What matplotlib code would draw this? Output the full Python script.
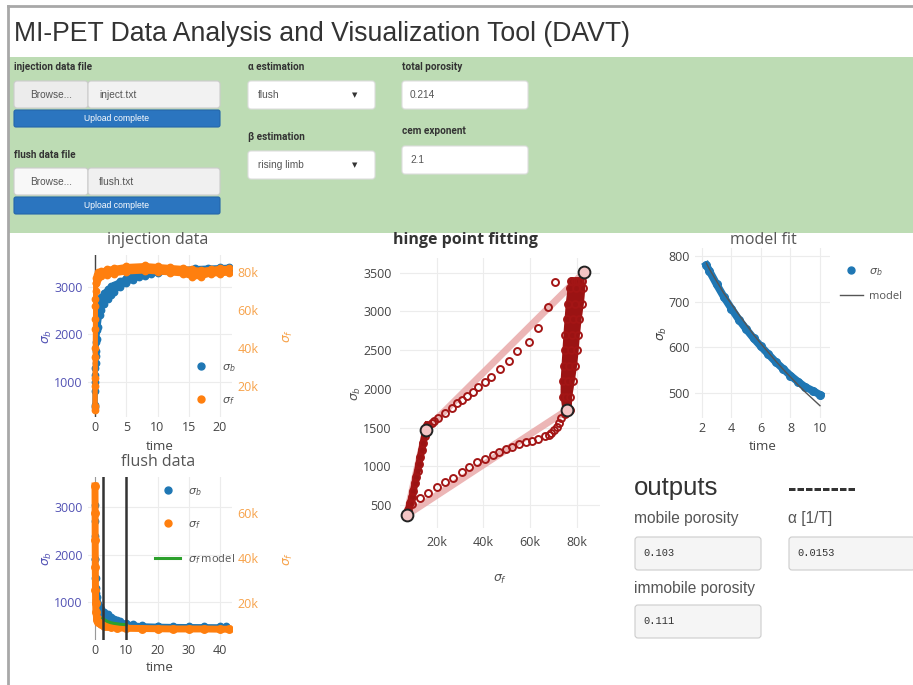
import matplotlib
matplotlib.use("Agg")
import matplotlib.pyplot as plt
from matplotlib.patches import Rectangle, FancyBboxPatch
from matplotlib.lines import Line2D
from matplotlib.ticker import FuncFormatter

# ---------------- data ----------------
# injection data (time, sigma_b band, sigma_f band in thousands)
inj_t_b = [0.0, 0.03, 0.06, 0.1, 0.2, 0.3, 0.5, 0.75, 1.0, 1.5, 2.0, 2.5, 3.0, 4.0, 5.0, 6.0,
           7.0, 8.0, 9.0, 10.0, 12.0, 14.0, 16.0, 18.0, 20.0, 21.5]
inj_sb_lo = [480, 800, 1150, 1400, 1650, 1900, 2150, 2400, 2520, 2650, 2750, 2830, 2900, 3000,
             3080, 3150, 3200, 3240, 3270, 3290, 3320, 3340, 3360, 3370, 3380, 3380]
inj_sb_hi = [520, 1000, 1300, 1550, 1850, 2100, 2400, 2650, 2780, 2880, 2950, 3010, 3050, 3120,
             3180, 3230, 3270, 3300, 3320, 3330, 3350, 3370, 3390, 3400, 3410, 3420]
inj_t_f = [0.0, 0.02, 0.04, 0.06, 0.08, 0.1, 0.15, 0.25, 0.5, 1.0, 2.0, 3.0, 5.0, 8.0, 10.0,
           12.0, 14.0, 15.5, 17.0, 18.5, 20.0, 21.5]
inj_sf_lo = [7.5, 20, 35, 50, 62, 70, 74, 76, 77, 78, 78.5, 79, 80, 80.5, 80, 79.5, 79, 77.5,
             77.5, 79, 79, 79.5]
inj_sf_hi = [9.5, 24, 40, 55, 66, 74, 77, 78.5, 80, 80.5, 81.5, 82, 83, 83.5, 83, 82.5, 82,
             81.5, 81, 81.5, 82, 82]

# flush data
fl_t_b = [0.0, 0.05, 0.1, 0.2, 0.3, 0.5, 0.75, 1.0, 1.5, 2.0, 3.0, 4.0, 5.0, 6.0, 7.0, 8.0,
          10.0, 12.0, 15.0, 20.0, 25.0, 30.0, 35.0, 40.0, 42.0]
fl_sb_lo = [2700, 1900, 1500, 1200, 1050, 900, 830, 780, 720, 670, 620, 580, 555, 540, 530,
            520, 505, 495, 490, 485, 480, 478, 475, 472, 470]
fl_sb_hi = [3050, 2400, 1900, 1500, 1300, 1100, 1000, 950, 900, 860, 800, 740, 690, 650, 620,
            590, 555, 530, 510, 500, 495, 492, 490, 488, 485]
fl_t_f = [0.0, 0.03, 0.06, 0.1, 0.15, 0.2, 0.3, 0.5, 0.75, 1.0, 1.5, 2.0, 3.0, 4.0, 5.0, 7.0,
          10.0, 15.0, 20.0, 25.0, 30.0, 35.0, 40.0, 43.0]
fl_sf = [72, 60, 48, 36, 26, 20, 16, 13.5, 12.5, 11.8, 11, 10.5, 10, 9.6, 9.3, 9, 8.8, 8.7,
         8.6, 8.5, 8.5, 8.5, 8.4, 8.4]
fl_model_t = [2.5, 3, 4, 5, 6, 7, 8, 9, 10]
fl_model_sf = [13.3, 12.6, 11.8, 11.3, 11.0, 10.8, 10.6, 10.5, 10.4]
fl_cut_times = [2.5, 10]

# hinge point fitting (sigma_f in thousands)
hinge_sf = [7.1, 15.3, 75.9, 83.2]
hinge_sb = [370, 1469, 1727, 3506]
fit_upper_sf = [7.1, 15.3, 83.2]
fit_upper_sb = [370, 1469, 3506]
fit_lower_sf = [7.1, 75.9, 83.2]
fit_lower_sb = [370, 1727, 3506]
up_sf = [81.0, 79.5, 77.5, 70.7, 67.8, 63.5, 59.5, 54.3, 51.1, 47.1, 43.5, 40.7, 37.6, 35.4,
         33.1, 30.7, 28.8, 26.4, 23.6, 20.7, 19.0, 17.9, 16.5]
up_sb = [3400, 3400, 3400, 3385, 3062, 2791, 2610, 2490, 2360, 2253, 2158, 2085, 2021, 1964,
         1912, 1857, 1814, 1749, 1685, 1620, 1590, 1556, 1520]
left_sf = [16.0, 15.3, 14.8, 14.2, 13.6, 13.0, 12.4, 11.8, 11.2, 10.7, 10.0, 9.4, 8.6, 7.9, 7.1]
left_sb = [1530, 1469, 1390, 1300, 1210, 1120, 1030, 940, 860, 780, 680, 600, 522, 440, 370]
low_sf = [9.6, 12.8, 16.4, 20.0, 23.6, 27.1, 30.7, 34.0, 37.1, 40.7, 44.2, 46.8, 49.7, 52.5,
          55.4, 58.1, 60.7, 63.5, 66.4, 68.0, 69.2, 70.3, 71.4, 72.5, 73.5, 74.8]
low_sb = [513, 587, 659, 729, 793, 853, 930, 995, 1052, 1094, 1146, 1185, 1219, 1253, 1284,
          1310, 1331, 1357, 1391, 1410, 1434, 1470, 1512, 1560, 1620, 1680]
right_sb = [1727, 1900, 2100, 2300, 2500, 2700, 2900, 3100, 3300, 3400]
right_sf_lo = [74.8, 74.0, 74.0, 74.4, 74.8, 75.2, 75.7, 76.2, 77.0, 78.0]
right_sf_mid = [75.9, 75.6, 76.2, 76.8, 77.4, 77.9, 78.5, 79.2, 79.9, 80.2]
right_sf_hi = [77.0, 77.2, 78.3, 79.3, 80.0, 80.5, 81.2, 82.2, 82.8, 82.5]

# model fit
mf_t = [2.3, 2.5, 3.0, 3.5, 4.0, 4.5, 5.0, 5.5, 6.0, 6.5, 7.0, 7.5, 8.0, 8.5, 9.0, 9.5, 10.0]
mf_sb = [780, 768, 738, 710, 685, 661, 640, 620, 602, 585, 568, 553, 538, 525, 513, 505, 496]
mf_model = [785, 772, 745, 718, 695, 672, 650, 628, 608, 589, 570, 552, 535, 518, 502, 487, 472]

# text content
app_title = "MI-PET Data Analysis and Visualization Tool (DAVT)"
outputs = {"mobile porosity": "0.103", "immobile porosity": "0.111", "\u03b1 [1/T]": "0.0153"}

# ---------------- figure ----------------
W, H = 913, 685
fig = plt.figure(figsize=(W / 100, H / 100), dpi=100)
fig.patch.set_facecolor("white")
plt.rcParams["font.family"] = ["Open Sans", "DejaVu Sans"]

ui = fig.add_axes([0, 0, 1, 1])
ui.set_xlim(0, W)
ui.set_ylim(H, 0)
ui.axis("off")

UI_FONT = ["Liberation Sans", "DejaVu Sans"]
BLUE, ORANGE, GREEN = "#1f77b4", "#ff7f0e", "#2ca02c"
LBLUE_TXT, LORANGE_TXT = "#5252b4", "#f7a24a"
DARKRED = "#a31515"
BAND_RED = "#9b1313"


def box(x0, y0, x1, y1, fc, ec="#cccccc", r=3, lw=0.8):
    ui.add_patch(FancyBboxPatch((x0, y0), x1 - x0, y1 - y0,
                                boxstyle=f"round,pad=0,rounding_size={r}",
                                fc=fc, ec=ec, lw=lw))


def t(x, y, s, size=7, color="#333333", weight="normal", ha="left", va="center", family=None):
    ui.text(x, y, s, fontsize=size, color=color, fontweight=weight, ha=ha, va=va,
            family=family or UI_FONT)


# frame
ui.plot([8, 8], [6, 685], color="#a8a8a8", lw=2)
ui.plot([8, 913], [6, 6], color="#a8a8a8", lw=2)

t(14, 34, app_title, size=19.2, color="#333333")

# green input panel
ui.add_patch(Rectangle((9, 57), 904, 176, fc="#bddcb4", ec="none"))

lab = dict(size=7.2, weight="bold", color="#333333", family=["Roboto", "Liberation Sans"])
t(14, 67, "injection data file", **lab)
t(14, 155, "flush data file", **lab)
t(248, 67, "\u03b1 estimation", **lab)
t(248, 137, "\u03b2 estimation", **lab)
t(402, 67, "total porosity", **lab)
t(402, 131, "cem exponent", **lab)

for (y0, bfc, ffc, fname) in [(81, "#ececec", "#f2f2f2", "inject.txt"),
                              (168, "#f8f8f8", "#f0f0f0", "flush.txt")]:
    box(14, y0, 88, y0 + 27, bfc)
    box(88, y0, 220, y0 + 27, ffc)
    t(51, y0 + 13.5, "Browse...", size=7.3, color="#555555", ha="center")
    t(99, y0 + 13.5, fname, size=7.3, color="#555555")
    box(14, y0 + 29, 220, y0 + 46, "#2b75bf", ec="#2466aa", r=2)
    t(117, y0 + 37.5, "Upload complete", size=6.2, color="white", ha="center")

for (y0, txt) in [(81, "flush"), (151, "rising limb")]:
    box(248, y0, 375, y0 + 28, "white", ec="#dddddd")
    t(258, y0 + 14, txt, size=7.3, color="#555555")
    t(355, y0 + 14, "\u25bc", size=5, color="#333333", ha="center", family=["DejaVu Sans"])

for (y0, txt) in [(81, "0.214"), (146, "2.1")]:
    box(402, y0, 528, y0 + 28, "white", ec="#dddddd")
    t(410, y0 + 14, txt, size=7.3, color="#555555")

# outputs panel
t(634, 488, "outputs", size=18.5, color="#333333")
t(788, 489, "--------", size=18.5, color="#333333", weight="bold")
out_items = list(outputs.items())
out_pos = [(634, 519, 537), (634, 588, 605), (788, 519, 537)]
for (name, val), (x, ly, by) in zip(out_items, out_pos):
    t(x, ly, name, size=11.2, color="#555555")
    box(x + 1, by, x + 127, by + 33, "#f5f5f5", ec="#cccccc")
    t(x + 9, by + 16.5, val, size=7.5, color="#333333", family=["Liberation Mono", "DejaVu Sans Mono"])


# ---------------- charts ----------------
def px_axes(x0, y0, x1, y1):
    return fig.add_axes([x0 / W, 1 - y1 / H, (x1 - x0) / W, (y1 - y0) / H])


def style(ax, color="#444444"):
    ax.set_facecolor("none")
    for s in ax.spines.values():
        s.set_visible(False)
    ax.tick_params(length=0, labelsize=9, colors=color)
    ax.grid(True, color="#ececec", lw=0.8)
    ax.set_axisbelow(True)


kfmt = FuncFormatter(lambda v, p: f"{int(v)}k")
SB = r"$\sigma_b$"
SF = r"$\sigma_f$"
MS = 4.6


def legend(ax, handles, labels, x, y, hl, pad, spacing):
    ax.legend(handles, labels, loc="upper left", bbox_to_anchor=(x, y),
              bbox_transform=ui.transData, frameon=False, fontsize=8,
              handlelength=hl, handletextpad=pad, labelspacing=spacing,
              borderpad=0, borderaxespad=0, labelcolor="#555555", numpoints=1)


# injection data
ax1 = px_axes(88, 255, 232, 417)
style(ax1)
ax1.set_xlim(-1.12, 21.92)
ax1.set_ylim(260, 3673)
ax1.set_xticks([0, 5, 10, 15, 20])
ax1.set_yticks([1000, 2000, 3000])
ax1.tick_params(axis="y", colors=LBLUE_TXT, pad=4)
ax1.tick_params(axis="x", pad=3)
ax1.axvline(0, color="#444444", lw=1.0, zorder=1)
ax1.fill_between(inj_t_b, inj_sb_lo, inj_sb_hi, color=BLUE, lw=0, zorder=2)
ax1.plot(inj_t_b, inj_sb_lo, "o-", color=BLUE, ms=MS, lw=3.5, zorder=2)
ax1.plot(inj_t_b, inj_sb_hi, "o-", color=BLUE, ms=MS, lw=3.5, zorder=2)
ax1.set_xlabel("time", fontsize=9.5, color="#444444")
ax1.xaxis.set_label_coords(0.5, -0.14)
ax1.set_ylabel(SB, fontsize=9, color=LBLUE_TXT)
ax1.yaxis.set_label_coords(-0.236, 0.5)
ax1r = ax1.twinx()
for s in ax1r.spines.values():
    s.set_visible(False)
ax1r.set_ylim(3.6, 89)
ax1r.set_yticks([20, 40, 60, 80])
ax1r.yaxis.set_major_formatter(kfmt)
ax1r.tick_params(length=0, labelsize=9, colors=LORANGE_TXT, pad=4)
ax1r.fill_between(inj_t_f, inj_sf_lo, inj_sf_hi, color=ORANGE, lw=0)
ax1r.plot(inj_t_f, inj_sf_lo, "o-", color=ORANGE, ms=MS, lw=3.5)
ax1r.plot(inj_t_f, inj_sf_hi, "o-", color=ORANGE, ms=MS, lw=3.5)
ax1r.set_ylabel(SF, fontsize=9, color=LORANGE_TXT, rotation=90)
ax1r.yaxis.set_label_coords(1.347, 0.5)
legend(ax1r, [Line2D([], [], marker="o", ls="", color=BLUE, ms=5),
              Line2D([], [], marker="o", ls="", color=ORANGE, ms=5)],
       [SB, SF], 194, 362, 1.2, 1.3, 1.9)
t(158, 240, "injection data", size=11.5, color="#555555", ha="center", family=["Open Sans"])

# flush data
ax2 = px_axes(88, 477, 232, 640)
style(ax2)
ax2.set_xlim(-2.24, 43.84)
ax2.set_ylim(200, 3632)
ax2.set_xticks([0, 10, 20, 30, 40])
ax2.set_yticks([1000, 2000, 3000])
ax2.tick_params(axis="y", colors=LBLUE_TXT, pad=4)
ax2.tick_params(axis="x", pad=3)
ax2.axvline(0, color="#999999", lw=0.8, zorder=1)
ax2.fill_between(fl_t_b, fl_sb_lo, fl_sb_hi, color=BLUE, lw=0, zorder=2)
ax2.plot(fl_t_b, fl_sb_lo, "o-", color=BLUE, ms=MS, lw=3, zorder=2)
ax2.plot(fl_t_b, fl_sb_hi, "o-", color=BLUE, ms=MS, lw=3, zorder=2)
ax2.set_xlabel("time", fontsize=9.5, color="#444444")
ax2.xaxis.set_label_coords(0.5, -0.13)
ax2.set_ylabel(SB, fontsize=9, color=LBLUE_TXT)
ax2.yaxis.set_label_coords(-0.236, 0.5)
ax2r = ax2.twinx()
for s in ax2r.spines.values():
    s.set_visible(False)
ax2r.set_ylim(3.6, 76)
ax2r.set_yticks([20, 40, 60])
ax2r.yaxis.set_major_formatter(kfmt)
ax2r.tick_params(length=0, labelsize=9, colors=LORANGE_TXT, pad=4)
ax2r.plot(fl_t_f, fl_sf, "o-", color=ORANGE, ms=MS + 0.8, lw=5)
ax2r.plot(fl_model_t, fl_model_sf, "-", color=GREEN, lw=2.2)
for ct in fl_cut_times:
    ax2r.axvline(ct, color="#333333", lw=1.8)
ax2r.set_ylabel(SF, fontsize=9, color=LORANGE_TXT, rotation=90)
ax2r.yaxis.set_label_coords(1.347, 0.5)
legend(ax2r, [Line2D([], [], marker="o", ls="", color=BLUE, ms=5),
              Line2D([], [], marker="o", ls="", color=ORANGE, ms=5),
              Line2D([], [], color=GREEN, lw=2.2)],
       [SB, SF, SF + " model"], 155, 486, 2.25, 0.75, 1.9)
t(158, 462, "flush data", size=11.5, color="#555555", ha="center", family=["Open Sans"])

# hinge point fitting
ax3 = px_axes(400, 258, 600, 528)
style(ax3)
ax3.set_xlim(4.3, 90)
ax3.set_ylim(203, 3691)
ax3.set_xticks([20, 40, 60, 80])
ax3.xaxis.set_major_formatter(kfmt)
ax3.set_yticks([500, 1000, 1500, 2000, 2500, 3000, 3500])
ax3.tick_params(axis="y", pad=6)
ax3.tick_params(axis="x", pad=6)
ax3.plot(fit_upper_sf, fit_upper_sb, color="#e9a9a9", lw=5, alpha=0.85, solid_capstyle="round", zorder=2)
ax3.plot(fit_lower_sf, fit_lower_sb, color="#e9a9a9", lw=5, alpha=0.85, solid_capstyle="round", zorder=2)
ax3.fill_betweenx(right_sb, right_sf_lo, right_sf_hi, color=BAND_RED, lw=0, zorder=3)
for xs in (right_sf_lo, right_sf_mid, right_sf_hi):
    ax3.plot(xs, right_sb, "o-", mfc="none", mec=DARKRED, color=BAND_RED, mew=1.4, ms=5, lw=3, zorder=3)
ax3.plot(left_sf, left_sb, "o-", mfc="none", mec=DARKRED, color=BAND_RED, mew=1.4, ms=5, lw=5, zorder=3)
ax3.plot(up_sf, up_sb, "o", mfc="none", mec=DARKRED, mew=1.4, ms=5, zorder=3)
ax3.plot(low_sf, low_sb, "o", mfc="none", mec=DARKRED, mew=1.4, ms=5, zorder=3)
ax3.plot(hinge_sf, hinge_sb, "o", mfc="#f3c4c4", mec="#222222", mew=1.4, ms=8.5, zorder=4)
ax3.set_xlabel(SF, fontsize=9, color="#555555")
ax3.xaxis.set_label_coords(0.5, -0.165)
ax3.set_ylabel(SB, fontsize=9, color="#555555")
ax3.yaxis.set_label_coords(-0.185, 0.5)
t(465, 240, "hinge point fitting", size=11.5, color="#333333", weight="bold", ha="center", family=["Open Sans"])

# model fit
ax4 = px_axes(695, 248, 830, 418)
style(ax4)
ax4.set_xlim(1.53, 10.68)
ax4.set_ylim(445, 818)
ax4.set_xticks([2, 4, 6, 8, 10])
ax4.set_yticks([500, 600, 700, 800])
ax4.tick_params(axis="y", pad=4)
ax4.tick_params(axis="x", pad=3)
ax4.plot(mf_t, mf_sb, "o-", color=BLUE, ms=5.5, lw=5.5, zorder=2)
ax4.plot(mf_t, mf_model, "-", color="#555555", lw=1, zorder=3)
ax4.set_xlabel("time", fontsize=9.5, color="#444444")
ax4.xaxis.set_label_coords(0.5, -0.13)
ax4.set_ylabel(SB, fontsize=9, color="#444444")
ax4.yaxis.set_label_coords(-0.193, 0.5)
legend(ax4, [Line2D([], [], marker="o", ls="", color=BLUE, ms=5),
             Line2D([], [], color="#555555", lw=1)],
       [SB, "model"], 840, 266, 2.05, 0.6, 1.2)
t(763, 240, "model fit", size=11.5, color="#555555", ha="center", family=["Open Sans"])

fig.savefig("out.png", dpi=100, facecolor="white")
